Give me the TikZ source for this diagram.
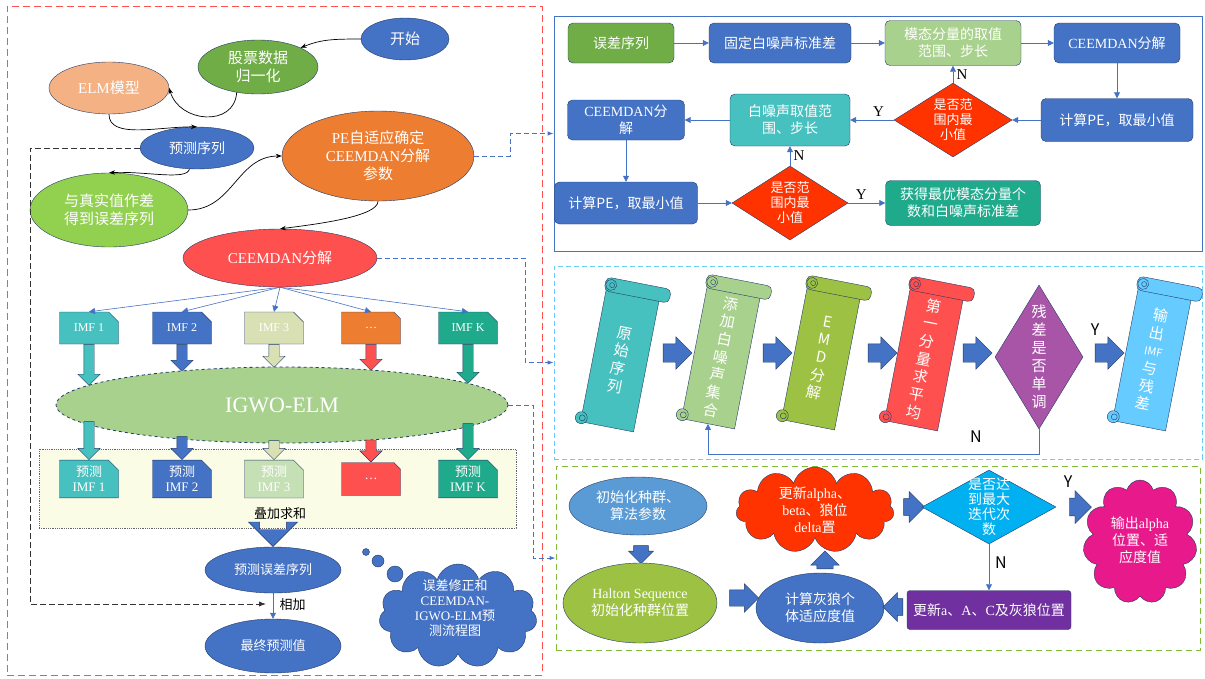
\documentclass[tikz,border=0pt]{standalone}
\usepackage{fontspec}
\setmainfont{Noto Sans CJK SC}
\newfontfamily\romana{Liberation Serif}
\usetikzlibrary{arrows.meta,positioning,shapes.geometric,shapes.symbols,shapes.arrows,shapes.misc}
\definecolor{azulFlujo}{HTML}{4472C4}
\definecolor{bordeOscuro}{HTML}{243B66}
\definecolor{verdeOficina}{HTML}{70AD47}
\definecolor{verdeClaro}{HTML}{A9D18E}
\definecolor{verdeLima}{HTML}{92D050}
\definecolor{naranja}{HTML}{ED7D31}
\definecolor{salmon}{HTML}{F4B183}
\definecolor{rojoClaro}{HTML}{FF5050}
\definecolor{rojoFuerte}{HTML}{FF3300}
\definecolor{turquesa}{HTML}{47C1BF}
\definecolor{turquesaOsc}{HTML}{1FAA8C}
\definecolor{caqui}{HTML}{D9E0B4}
\definecolor{verdePalido}{HTML}{C5E0B4}
\definecolor{oliva}{HTML}{9DC143}
\definecolor{morado}{HTML}{A855A8}
\definecolor{violeta}{HTML}{7030A0}
\definecolor{celeste}{HTML}{66CCFF}
\definecolor{cian}{HTML}{00B0F0}
\definecolor{azulClaro}{HTML}{5B9BD5}
\definecolor{rosa}{HTML}{E8198B}
\definecolor{amarilloClaro}{HTML}{FAFCE6}

\newcommand{\tam}[2]{\fontsize{#1}{#2}\selectfont}
% pergamino inclinado: nombre, centro, color, texto
\newcommand{\rollo}[4]{%
  \begin{scope}[shift={#2}, rotate=-11]
    \node[pergamino, fill=#3] (#1) at (0,0) {#4};
    \filldraw[fill=#3, draw=bordeOscuro, rounded corners=5pt] (-29,-79) rectangle (37,-65);
    \filldraw[fill=#3, draw=bordeOscuro] (-23,-72) circle (5.5);
    \draw[bordeOscuro] (-22,-72) circle (2.5);
    \filldraw[fill=#3, draw=bordeOscuro] (-27,64) circle (6);
    \draw[bordeOscuro] (-26,64) circle (3);
  \end{scope}}

\begin{document}
\begin{tikzpicture}[x=1pt, y=-1pt,
    elipse/.style={ellipse, draw=bordeOscuro, fill=azulFlujo, text=white, align=center,
                   inner sep=1pt, font=\tam{15}{18}},
    caja/.style={rectangle, rounded corners=5pt, draw=bordeOscuro, fill=azulFlujo, text=white,
                 align=center, font=\tam{14}{17}},
    imf/.style={chamfered rectangle, chamfered rectangle corners=north east, chamfered rectangle sep=5pt,
                draw=bordeOscuro, text=white, align=center, minimum width=59pt, minimum height=32pt,
                inner sep=1pt, font=\tam{12}{14}},
    rombo/.style={diamond, draw=bordeOscuro, text=white, align=center, inner sep=0pt, font=\tam{13}{15}},
    bloque/.style={single arrow, draw=bordeOscuro, fill=azulFlujo, inner xsep=0pt, inner ysep=9pt,
                   single arrow head extend=7pt, minimum width=32pt, minimum height=29pt},
    flechita/.style={single arrow, draw=bordeOscuro, inner xsep=0pt, inner ysep=5pt,
                     single arrow head extend=6pt, minimum width=21pt},
    nube/.style={cloud, cloud puffs=11, cloud ignores aspect, draw=bordeOscuro, inner sep=0pt},
    pergamino/.style={rectangle, draw=bordeOscuro, text=white, align=center, minimum width=54pt,
                      minimum height=136pt, inner sep=0pt, transform shape, font=\tam{15}{18}},
    rotulo/.style={text=white, align=center, font=\tam{13}{15}},
    marca/.style={font=\tam{16}{18}},
    flecha/.style={draw=azulFlujo, line width=0.8pt, -{Triangle[length=6pt,width=6pt]}},
    curva/.style={draw=black, line width=0.7pt, -{Stealth[length=6pt]}},
    enlace/.style={draw=azulFlujo, line width=1pt, dash pattern=on 5pt off 3pt, -{Latex[length=6pt]}},
    discont/.style={draw=black!80, line width=0.9pt, dash pattern=on 6pt off 3pt, -{Latex[length=7pt]}}
  ]
  \useasboundingbox (0,0) rectangle (1205,678);

  % marcos
  \node[draw=rojoClaro, line width=1pt, dash pattern=on 7pt off 4pt, minimum width=535pt, minimum height=669pt] (marcoIzq) at (274.5,340.5) {};
  \node[draw=azulFlujo, line width=1pt, minimum width=648pt, minimum height=235pt] (panelA) at (878,133.5) {};
  \node[draw=celeste, line width=1pt, dash pattern=on 5pt off 3pt, minimum width=648pt, minimum height=193pt] (panelB) at (878,362.5) {};
  \node[draw=verdeOficina!80!lime, line width=1pt, dash pattern=on 6pt off 4pt, minimum width=644pt, minimum height=184pt] (panelC) at (878,558) {};

  % flujo principal
  \node[elipse, minimum width=88pt, minimum height=42pt] (inicio) at (405,39) {开始};
  \node[elipse, fill=verdeOficina, minimum width=120pt, minimum height=54pt] (normal) at (258,67) {股票数据\\归一化};
  \node[elipse, fill=salmon, minimum width=120pt, minimum height=52pt] (elm) at (109,88) {{\romana ELM}模型};
  \node[elipse, minimum width=114pt, minimum height=42pt, font=\tam{14}{17}] (predic) at (197,148) {预测序列};
  \node[elipse, fill=naranja, minimum width=192pt, minimum height=90pt] (pe) at (378,156) {{\romana PE}自适应确定\\{\romana CEEMDAN}分解\\参数};
  \node[elipse, fill=verdeLima, minimum width=158pt, minimum height=74pt] (resta) at (109,210) {与真实值作差\\得到误差序列};
  \node[elipse, fill=rojoClaro, minimum width=194pt, minimum height=58pt] (ceem) at (280,258) {{\romana CEEMDAN}分解};

  \draw[curva] (inicio.west) .. controls +(-30,0) and +(20,-8) .. (normal.north east);
  \draw[curva] (normal.230) .. controls +(-2,35) and +(10,35) .. (elm.east);
  \draw[curva] (elm.south) .. controls +(0,25) and +(-40,0) .. (predic.north);
  \draw[curva] (predic.250) .. controls +(-2,12) and +(35,-2) .. (resta.north);
  \draw[curva] (resta.east) .. controls +(45,0) and +(-45,0) .. (pe.west);
  \draw[curva] (pe.south) .. controls +(0,15) and +(40,-5) .. (ceem.north);

  % componentes IMF
  \foreach \i/\x/\col/\fcol/\txt/\len in {1/89/turquesa/turquesa/IMF 1/41, 2/182/azulFlujo/azulFlujo/IMF 2/27,
      3/274/caqui/caqui/IMF 3/23, 4/371/naranja/rojoClaro/…/26, 5/468/turquesaOsc/turquesaOsc/IMF K/39} {
    \node[imf, fill=\col] (imf\i) at (\x,328) {\romana \txt};
    \draw[flecha, line width=0.6pt] (ceem.south) -- (imf\i.north);
    \node[flechita, fill=\fcol, minimum height=\len pt, rotate=-90, anchor=tail] (fa\i) at (imf\i.south) {};
  }

  \node[ellipse, draw=bordeOscuro, dashed, line width=0.8pt, fill=verdeClaro, text=white, minimum width=452pt, minimum height=76pt, font=\tam{22}{24}] (igwo) at (282,405) {\romana IGWO-ELM};

  \node[draw=black!60, densely dotted, line width=0.8pt, fill=amarilloClaro, minimum width=477pt, minimum height=79pt] (fondo) at (277.5,488.5) {};
  \node[font=\tam{13}{15}] (suma) at (280,514) {叠加求和};

  \foreach \i/\x/\col/\fcol/\txt/\len in {1/89/turquesa/turquesa/{预测\\\romana IMF 1}/38,
      2/182/azulFlujo/azulFlujo/{预测\\\romana IMF 2}/23, 3/274/verdePalido/caqui/{预测\\\romana IMF 3}/19,
      4/371/rojoClaro/rojoClaro/{\romana …}/22, 5/468/turquesaOsc/turquesaOsc/{预测\\\romana IMF K}/36} {
    \node[imf, fill=\col, minimum height=33pt, font=\tam{13}{15}] (pimf\i) at (\x,479) {\txt};
    \node[flechita, fill=\fcol, minimum height=\len pt, rotate=-90, anchor=tip] (fb\i) at (pimf\i.north) {};
  }

  \node[elipse, minimum width=136pt, minimum height=46pt, font=\tam{13}{16}] (pres) at (273,570) {预测误差序列};
  \node[bloque, minimum width=49pt, minimum height=17pt, inner ysep=13pt, single arrow head extend=11pt, rotate=-90, anchor=tip] (bajada) at (pres.north) {};
  \node[elipse, minimum width=136pt, minimum height=54pt, font=\tam{13}{16}] (final) at (273,646) {最终预测值};
  \draw[flecha] (pres) -- (final);
  \coordinate (sumapt) at (266,604);
  \node[font=\tam{13}{15}, anchor=west] (sumlabel) at (276,605) {相加};
  \draw[discont] (predic.west) -| (30,604) -- (sumapt);

  \node[nube, fill=azulFlujo, minimum width=158pt, minimum height=104pt] (nota) at (458,616) {};
  \node[rotulo] (notat) at (455,608) {误差修正和\\{\romana CEEMDAN-}\\{\romana IGWO-ELM}预\\测流程图};
  \foreach \x/\y/\r in {366/552/3.5, 378/561/6, 395/574/8}
    \filldraw[fill=azulFlujo, draw=bordeOscuro] (\x,\y) circle (\r);

  \draw[enlace] (pe.east) -- ++(36,0) |- (panelA.west);
  \draw[enlace] (ceem.east) -- ++(148,0) |- (panelB.west);
  \draw[enlace] (igwo.east) -- ++(25,0) |- (panelC.west);

  % PE adaptativo
  \node[caja, fill=verdeOficina, minimum width=106pt, minimum height=40pt] (errS) at (621,43) {误差序列};
  \node[caja, minimum width=142pt, minimum height=40pt] (fijo) at (780,43) {固定白噪声标准差};
  \node[caja, fill=verdeClaro, minimum width=136pt, minimum height=45pt] (modal) at (953,43) {模态分量的取值\\范围、步长};
  \node[caja, minimum width=126pt, minimum height=40pt] (ceemA) at (1117,43) {{\romana CEEMDAN}分解};
  \node[caja, minimum width=152pt, minimum height=43pt] (peA) at (1117,120) {计算PE，取最小值};
  \node[rombo, fill=rojoFuerte, aspect=1.6, minimum width=118pt, minimum height=74pt] (rangoA) at (953,120) {是否范\\围内最\\小值};
  \node[caja, fill=turquesa, minimum width=120pt, minimum height=52pt] (ruidoB) at (790,120) {白噪声取值范\\围、步长};
  \node[caja, minimum width=117pt, minimum height=40pt] (ceemB) at (626,120) {{\romana CEEMDAN}分\\解};
  \node[caja, minimum width=143pt, minimum height=42pt] (peB) at (626,203) {计算PE，取最小值};
  \node[rombo, fill=rojoFuerte, aspect=1.6, minimum width=116pt, minimum height=74pt] (rangoB) at (790,203) {是否范\\围内最\\小值};
  \node[caja, fill=turquesaOsc, minimum width=155pt, minimum height=45pt] (optimo) at (963,203) {获得最优模态分量个\\数和白噪声标准差};

  \draw[flecha] (errS) -- (fijo);
  \draw[flecha] (fijo) -- (modal);
  \draw[flecha] (modal) -- (ceemA);
  \draw[flecha] (ceemA) -- (peA);
  \draw[flecha] (peA) -- (rangoA);
  \draw[flecha] (rangoA) -- node[above, black, font=\tam{15}{17}\romana, pos=0.35] (yA1) {Y} (ruidoB);
  \draw[flecha] (rangoA) -- node[right, black, font=\tam{15}{17}\romana] (nA1) {N} (modal);
  \draw[flecha] (ruidoB) -- (ceemB);
  \draw[flecha] (ceemB) -- (peB);
  \draw[flecha] (peB) -- (rangoB);
  \draw[flecha] (rangoB) -- node[right, black, font=\tam{15}{17}\romana] (nA2) {N} (ruidoB);
  \draw[flecha] (rangoB) -- node[above, black, font=\tam{15}{17}\romana, pos=0.35] (yA2) {Y} (optimo);

  % CEEMDAN
  \rollo{original}{(620,360)}{turquesa}{原\\始\\序\\列}
  \rollo{ruido}{(721,357)}{verdeClaro}{添\\加\\白\\噪\\声\\集\\合}
  \rollo{emd}{(821,358)}{oliva}{E\\M\\D\\分\\解}
  \rollo{media}{(924,359)}{rojoClaro}{第\\一\\分\\量\\求\\平\\均}
  \rollo{salidaB}{(1152,359)}{celeste}{输\\出\\{\tam{11}{18}IMF}\\与\\残\\差}
  \node[rombo, fill=morado, aspect=0.61, minimum width=88pt, minimum height=144pt, font=\tam{15}{18}] (monot) at (1039,357) {残\\差\\是\\否\\单\\调};
  \foreach \n/\x in {1/673, 2/773, 3/878, 4/973, 5/1105}
    \node[bloque] (b\n) at (\x,353) {};
  \node[marca] (yB) at (1095,330) {Y};
  \node[marca] (nB) at (976,437) {N};
  \draw[flecha] (monot.south) -- ++(0,25) -| (ruido.south);

  % IGWO
  \node[elipse, fill=azulClaro, minimum width=138pt, minimum height=58pt, font=\tam{14}{17}] (inicial) at (638,506) {初始化种群、\\算法参数};
  \node[bloque, rotate=-90, minimum width=25pt, minimum height=18pt, inner ysep=7pt, single arrow head extend=5pt] (c1) at (641,551) {};
  \node[elipse, fill=oliva, minimum width=154pt, minimum height=80pt, font=\tam{14}{17}] (halton) at (640,603) {{\romana Halton Sequence}\\初始化种群位置};
  \node[bloque, minimum width=27pt, minimum height=29pt, inner ysep=8pt, single arrow head extend=6pt] (c2) at (740,598) {};
  \node[elipse, minimum width=128pt, minimum height=70pt, font=\tam{14}{17}] (aptitud) at (820,608) {计算灰狼个\\体适应度值};
  \node[bloque, rotate=90, minimum width=27pt, minimum height=18pt, inner ysep=8pt, single arrow head extend=6pt] (c3) at (825,564) {};
  \node[nube, fill=rojoFuerte, minimum width=158pt, minimum height=86pt] (actual) at (815,510) {};
  \node[rotulo, font=\tam{14}{17}] (actualt) at (815,510) {更新{\romana alpha}、\\{\romana beta}、狼位\\{\romana delta}置};
  \node[bloque, minimum width=31pt, minimum height=21pt, inner ysep=8pt] (c4) at (910,507) {};
  \node[rombo, fill=cian, minimum width=134pt, minimum height=74pt] (iter) at (989,507) {};
  \node[rotulo, font=\tam{14}{15}] (itert) at (989,507) {是否达\\到最大\\迭代次\\数};
  \node[marca] (yC) at (1068,482) {Y};
  \node[bloque, minimum width=33pt, minimum height=22pt, inner ysep=8pt] (c5) at (1076,507) {};
  \node[nube, fill=rosa, minimum width=114pt, minimum height=124pt] (salida) at (1140,542) {};
  \node[rotulo, font=\tam{14}{17}] (salidat) at (1140,540) {输出{\romana alpha}\\位置、适\\应度值};
  \node[caja, fill=violeta, rounded corners=3pt, minimum width=164pt, minimum height=39pt] (lobos) at (989,610) {更新{\romana a}、{\romana A}、{\romana C}及灰狼位置};
  \draw[flecha, line width=0.6pt] (iter.south) -- (lobos.north);
  \node[marca] (nC) at (1001,563) {N};
  \node[bloque, rotate=180, minimum width=29pt, minimum height=20pt, inner ysep=8pt, single arrow head extend=6pt] (c6) at (897,607) {};
\end{tikzpicture}
\end{document}
